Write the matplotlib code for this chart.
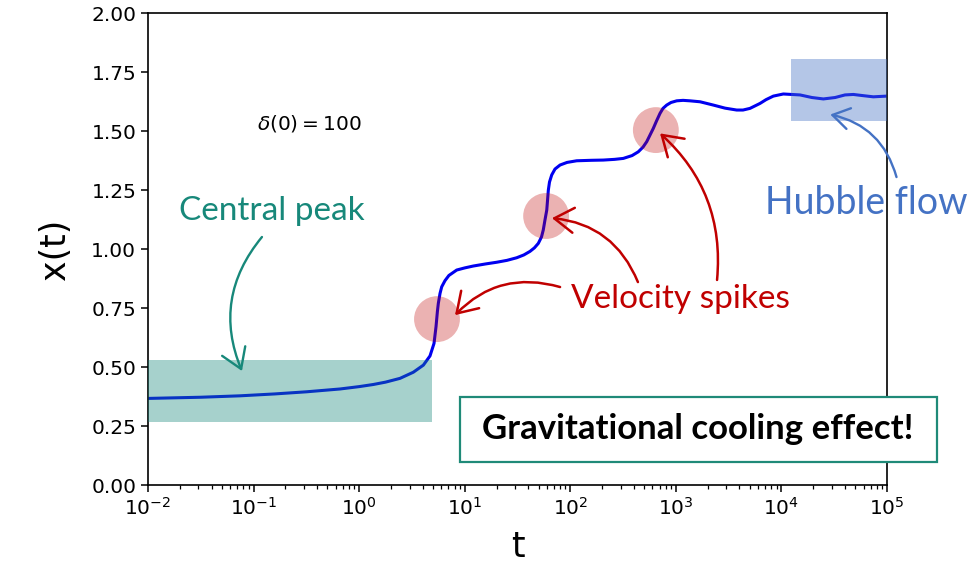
import numpy as np
import matplotlib
matplotlib.use('Agg')
import matplotlib.pyplot as plt
from matplotlib.patches import Rectangle

# curve: log10(t) and x(t)
log_t = [-2.0, -1.5, -1.129, -0.8, -0.5, -0.181, 0.0, 0.134, 0.25, 0.387,
         0.513, 0.608, 0.671, 0.709, 0.728, 0.741, 0.750, 0.766, 0.782, 0.813,
         0.85, 0.924, 1.0, 1.081, 1.2, 1.303, 1.4, 1.492, 1.56, 1.618,
         1.66, 1.697, 1.727, 1.744, 1.760, 1.777, 1.792, 1.803, 1.824, 1.855,
         1.903, 1.969, 2.061, 2.2, 2.313, 2.42, 2.502, 2.585, 2.644, 2.689,
         2.724, 2.755, 2.786, 2.818, 2.850, 2.878, 2.913, 2.954, 3.008, 3.068,
         3.134, 3.229, 3.355, 3.466, 3.576, 3.636, 3.702, 3.797, 3.854, 3.923,
         4.018, 4.176, 4.289, 4.397, 4.508, 4.602, 4.681, 4.773, 4.870, 4.997]
x_t = [0.367, 0.372, 0.378, 0.386, 0.395, 0.407, 0.417, 0.426, 0.436, 0.452,
       0.478, 0.508, 0.547, 0.600, 0.671, 0.735, 0.770, 0.812, 0.840, 0.866,
       0.888, 0.911, 0.920, 0.928, 0.937, 0.944, 0.952, 0.963, 0.975, 0.990,
       1.005, 1.024, 1.051, 1.081, 1.123, 1.165, 1.250, 1.284, 1.314, 1.339,
       1.356, 1.367, 1.374, 1.376, 1.377, 1.380, 1.384, 1.396, 1.412, 1.432,
       1.455, 1.483, 1.511, 1.544, 1.575, 1.596, 1.610, 1.621, 1.628, 1.630,
       1.628, 1.624, 1.610, 1.597, 1.589, 1.589, 1.596, 1.617, 1.633, 1.648,
       1.657, 1.653, 1.642, 1.636, 1.642, 1.653, 1.655, 1.650, 1.645, 1.648]

# highlighted spikes (t, x)
spike_t = [5.46, 59.0, 646.0]
spike_x = [0.703, 1.14, 1.504]

# shaded regions: (t_start, t_end, x_low, x_high)
peak_region = (1e-2, 4.9, 0.268, 0.53)
hubble_region = (1.23e4, 1e5, 1.544, 1.805)

y_ticks = [0.00, 0.25, 0.50, 0.75, 1.00, 1.25, 1.50, 1.75, 2.00]

TEAL = '#17887a'
RED = '#c00000'
HUB = '#4472c4'
FONT = 'Lato'

fig = plt.figure(figsize=(9.77, 5.77), dpi=100)
ax = fig.add_axes([0.1515, 0.1594, 0.7564, 0.8180])

t = 10 ** np.array(log_t)
ax.plot(t, x_t, color='#0000f0', lw=2.2, zorder=2)

ax.add_patch(Rectangle((peak_region[0], peak_region[2]), peak_region[1] - peak_region[0],
                       peak_region[3] - peak_region[2], facecolor=TEAL, alpha=0.38,
                       edgecolor='none', zorder=3))
ax.add_patch(Rectangle((hubble_region[0], hubble_region[2]), hubble_region[1] - hubble_region[0],
                       hubble_region[3] - hubble_region[2], facecolor=HUB, alpha=0.4,
                       edgecolor='none', zorder=3))
ax.scatter(spike_t, spike_x, s=1090, color=RED, alpha=0.3, edgecolors='none', zorder=3)

ax.set_xscale('log')
ax.set_xlim(1e-2, 1e5)
ax.set_ylim(0, 2)
ax.set_yticks(y_ticks)
ax.set_yticklabels([f'{v:.2f}' for v in y_ticks])
ax.tick_params(labelsize=14.5, length=5, width=1.1)
ax.tick_params(which='minor', length=3, width=0.9)
for s in ax.spines.values():
    s.set_linewidth(1.2)
ax.set_xlabel('t', fontsize=25, labelpad=8)
ax.set_ylabel('x(t)', fontsize=25, labelpad=14)

ax.text(0.335, 1.53, r'$\delta(0) = 100$', fontsize=14.5, ha='center', va='center')

# annotations
fig.text(272 / 977, 1 - 211 / 577, 'Central peak', color=TEAL, fontsize=24, family=FONT,
         ha='center', va='center')
ax.annotate('', xy=(0.0776, 0.483), xytext=(0.12, 1.051),
            arrowprops=dict(arrowstyle='->,head_length=0.7,head_width=0.45', color=TEAL,
                            lw=1.7, mutation_scale=20, connectionstyle='arc3,rad=0.3',
                            shrinkA=0, shrinkB=0))

fig.text(680 / 977, 1 - 299 / 577, 'Velocity spikes', color=RED, fontsize=24, family=FONT,
         ha='center', va='center')
red_arrows = [((8.09, 0.72), (80.0, 0.839), 0.3),
              ((67.0, 1.131), (437.0, 0.86), 0.3),
              ((708.0, 1.49), (2455.0, 0.869), 0.25)]
for xy, xytext, rad in red_arrows:
    ax.annotate('', xy=xy, xytext=xytext,
                arrowprops=dict(arrowstyle='->,head_length=0.7,head_width=0.45', color=RED,
                                lw=1.8, mutation_scale=20, connectionstyle=f'arc3,rad={rad}',
                                shrinkA=0, shrinkB=0))

fig.text(866 / 977, 1 - 203 / 577, 'Hubble flow', color=HUB, fontsize=27, family=FONT,
         ha='center', va='center')
ax.annotate('', xy=(2.9e4, 1.57), xytext=(1.23e5, 1.305), annotation_clip=False,
            arrowprops=dict(arrowstyle='->,head_length=0.6,head_width=0.38', color=HUB,
                            lw=1.7, mutation_scale=20, connectionstyle='arc3,rad=0.3',
                            shrinkA=0, shrinkB=0))

fig.patches.append(Rectangle((460 / 977, 1 - 462 / 577), 477 / 977, 65 / 577,
                             transform=fig.transFigure, facecolor='white',
                             edgecolor='#1f8a78', lw=1.6, zorder=5))
fig.text(698 / 977, 1 - 429 / 577, 'Gravitational cooling effect!', fontsize=25,
         family=FONT, fontweight='bold', ha='center', va='center', zorder=6)

fig.savefig('out.png', dpi=100)
